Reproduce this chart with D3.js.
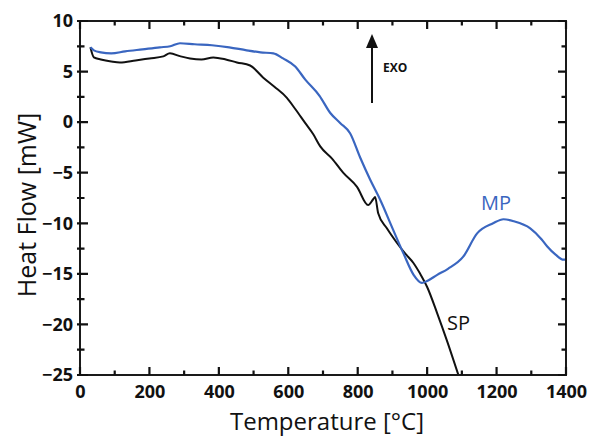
<!DOCTYPE html>
<html>
<head>
<meta charset="utf-8">
<script src="https://cdn.jsdelivr.net/npm/d3@7"></script>
<style>
  body { margin: 0; background: #fff; }
  text { font-family: "Open Sans", sans-serif; }
</style>
</head>
<body>
<script>
// values
var mpTemp = [30, 40, 60, 90, 130, 180, 230, 260, 288, 330, 380, 430, 480, 520, 557, 585, 620, 649, 690, 721, 750, 778, 807, 836, 865, 899, 932, 961, 985, 1000, 1029, 1060, 1104, 1144, 1190, 1220, 1250, 1297, 1330, 1346, 1370, 1393, 1400];
var mpFlow = [7.4, 7.1, 6.9, 6.8, 7.0, 7.2, 7.4, 7.5, 7.8, 7.7, 7.6, 7.4, 7.1, 6.9, 6.8, 6.3, 5.5, 4.2, 2.6, 0.9, -0.1, -1.1, -3.5, -5.7, -7.7, -10.4, -13.0, -15.1, -15.9, -15.7, -15.1, -14.5, -13.3, -11.0, -10.0, -9.6, -9.8, -10.5, -11.6, -12.3, -13.1, -13.6, -13.6];

var spTemp = [30, 40, 60, 90, 115, 160, 200, 240, 259, 290, 317, 350, 384, 420, 452, 490, 528, 560, 596, 620, 649, 672, 692, 726, 758, 798, 830, 845, 850, 859, 884, 910, 937, 960, 980, 1000, 1029, 1057, 1090];
var spFlow = [7.4, 6.4, 6.2, 6.0, 5.9, 6.1, 6.3, 6.5, 6.8, 6.5, 6.3, 6.2, 6.4, 6.2, 5.9, 5.6, 4.4, 3.5, 2.4, 1.3, -0.1, -1.2, -2.4, -3.6, -5.0, -6.4, -8.2, -7.6, -7.4, -9.0, -10.5, -11.8, -13.0, -13.9, -15.0, -16.3, -18.9, -21.6, -25];

var xTicks = [0, 200, 400, 600, 800, 1000, 1200, 1400];
var yTicks = [10, 5, 0, -5, -10, -15, -20, -25];

var width = 589, height = 438;
var margin = {top: 21, right: 23, bottom: 63, left: 80};

var svg = d3.select("body").append("svg")
    .attr("width", width)
    .attr("height", height);

var x = d3.scaleLinear().domain([0, 1400]).range([margin.left, width - margin.right]);
var y = d3.scaleLinear().domain([-25, 10]).range([height - margin.bottom, margin.top]);

svg.append("defs").append("clipPath").attr("id", "plot")
    .append("rect")
    .attr("x", margin.left).attr("y", margin.top)
    .attr("width", x(1400) - x(0)).attr("height", y(-25) - y(10));

// minor ticks every 100 / 2.5
var xMinor = d3.range(100, 1400, 200);
var yMinor = d3.range(-22.5, 10, 5);

// tick labels
svg.append("g").attr("transform", "translate(0," + y(-25) + ")")
    .call(d3.axisBottom(x).tickValues(xTicks).tickSize(0).tickPadding(10).tickFormat(d3.format("d")));
svg.append("g").attr("transform", "translate(" + x(0) + ",0)")
    .call(d3.axisLeft(y).tickValues(yTicks).tickSize(0).tickPadding(7).tickFormat(d3.format("d")));

svg.selectAll(".domain").remove();
svg.selectAll(".tick text")
    .attr("font-family", "Open Sans")
    .attr("font-weight", "bold")
    .attr("font-size", 18)
    .attr("fill", "#111");

var line = d3.line()
    .x(function(d){ return x(d[0]); })
    .y(function(d){ return y(d[1]); })
    .curve(d3.curveMonotoneX);

var plot = svg.append("g").attr("clip-path", "url(#plot)");

plot.append("path")
    .datum(d3.zip(spTemp, spFlow))
    .attr("d", line)
    .attr("fill", "none")
    .attr("stroke", "#111")
    .attr("stroke-width", 2);

plot.append("path")
    .datum(d3.zip(mpTemp, mpFlow))
    .attr("d", line)
    .attr("fill", "none")
    .attr("stroke", "#3a66c0")
    .attr("stroke-width", 2.2);

// frame
svg.append("rect")
    .attr("x", x(0)).attr("y", y(10))
    .attr("width", x(1400) - x(0)).attr("height", y(-25) - y(10))
    .attr("fill", "none").attr("stroke", "#1a1a1a").attr("stroke-width", 2);

// inward ticks on all four sides, as one path
var tp = d3.path();
xTicks.map(function(v){ return [v, 8]; }).concat(xMinor.map(function(v){ return [v, 4.5]; }))
    .forEach(function(d){
        tp.moveTo(x(d[0]), y(-25)); tp.lineTo(x(d[0]), y(-25) - d[1]);
        tp.moveTo(x(d[0]), y(10));  tp.lineTo(x(d[0]), y(10) + d[1]);
    });
yTicks.map(function(v){ return [v, 8]; }).concat(yMinor.map(function(v){ return [v, 4.5]; }))
    .forEach(function(d){
        tp.moveTo(x(0) - 3, y(d[0]));  tp.lineTo(x(0) + d[1], y(d[0]));
        tp.moveTo(x(1400), y(d[0]));   tp.lineTo(x(1400) - d[1], y(d[0]));
    });
svg.append("path")
    .attr("d", tp.toString())
    .attr("fill", "none")
    .attr("stroke", "#111")
    .attr("stroke-width", 2.2);

// EXO arrow
svg.append("path")
    .attr("d", "M366,48 L372,34 L378,48 Z")
    .attr("fill", "#111");
svg.append("line")
    .attr("x1", 372).attr("x2", 372)
    .attr("y1", 103).attr("y2", 46)
    .attr("stroke", "#111").attr("stroke-width", 2);

svg.append("text")
    .attr("x", 383).attr("y", 68)
    .attr("dy", "0.35em")
    .attr("font-weight", "bold")
    .attr("font-size", 12)
    .attr("fill", "#111")
    .text("EXO");

// series labels
svg.append("text")
    .attr("x", 481).attr("y", 203).attr("dy", "0.35em")
    .attr("font-size", 20).attr("fill", "#3a66c0")
    .text("MP");

svg.append("text")
    .attr("x", 447).attr("y", 323).attr("dy", "0.35em")
    .attr("font-size", 20).attr("fill", "#111")
    .text("SP");

// axis titles
svg.append("text")
    .attr("x", 327)
    .attr("y", 430)
    .attr("text-anchor", "middle")
    .attr("font-size", 24)
    .attr("fill", "#111")
    .text("Temperature [°C]");

svg.append("text")
    .attr("transform", "translate(27,205) rotate(-90)")
    .attr("text-anchor", "middle")
    .attr("dy", "0.35em")
    .attr("font-size", 25)
    .attr("fill", "#111")
    .text("Heat Flow [mW]");
</script>
</body>
</html>
